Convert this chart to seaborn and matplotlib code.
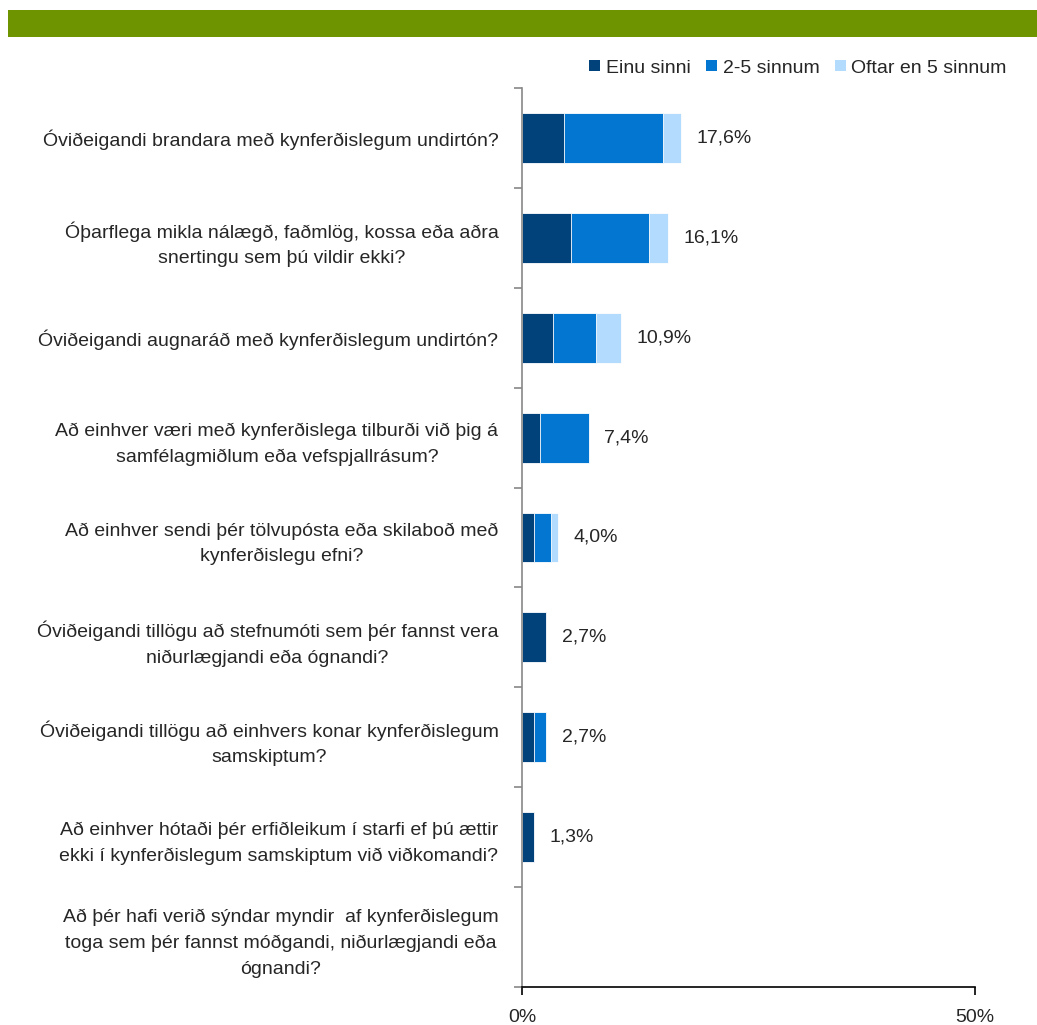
import matplotlib
matplotlib.use("Agg")
import matplotlib.pyplot as plt
from matplotlib.patches import Rectangle, Patch
import numpy as np
import pandas as pd
import seaborn as sns

questions = [
    "Óviðeigandi brandara með kynferðislegum undirtón?",
    "Óþarflega mikla nálægð, faðmlög, kossa eða aðra\nsnertingu sem þú vildir ekki?",
    "Óviðeigandi augnaráð með kynferðislegum undirtón?",
    "Að einhver væri með kynferðislega tilburði við þig á\nsamfélagmiðlum eða vefspjallrásum?",
    "Að einhver sendi þér tölvupósta eða skilaboð með\nkynferðislegu efni?",
    "Óviðeigandi tillögu að stefnumóti sem þér fannst vera\nniðurlægjandi eða ógnandi?",
    "Óviðeigandi tillögu að einhvers konar kynferðislegum\nsamskiptum?",
    "Að einhver hótaði þér erfiðleikum í starfi ef þú ættir\nekki í kynferðislegum samskiptum við viðkomandi?",
    "Að þér hafi verið sýndar myndir  af kynferðislegum\ntoga sem þér fannst móðgandi, niðurlægjandi eða\nógnandi?",
]
series = ["Einu sinni", "2-5 sinnum", "Oftar en 5 sinnum"]
einu = [4.6, 5.4, 3.4, 2.0, 1.3, 2.7, 1.3, 1.3, 0.0]
tvo_fimm = [11.0, 8.6, 4.8, 5.4, 1.9, 0.0, 1.4, 0.0, 0.0]
oftar = [2.0, 2.1, 2.7, 0.0, 0.8, 0.0, 0.0, 0.0, 0.0]
totals = [17.6, 16.1, 10.9, 7.4, 4.0, 2.7, 2.7, 1.3, None]

colors = ["#02427A", "#0276D0", "#B3DBFD"]

sns.set_style("white")
plt.rcParams['font.family'] = ['Liberation Sans', 'DejaVu Sans']
plt.rcParams['font.size'] = 14

df = pd.DataFrame({"q": questions, "a": einu, "b": tvo_fimm, "c": oftar})
df["cum_a"] = df["a"]
df["cum_b"] = df["a"] + df["b"]
df["cum_c"] = df["a"] + df["b"] + df["c"]

fig = plt.figure(figsize=(10.37, 10.25), dpi=100)
ax = fig.add_axes([522 / 1037, 1 - 987 / 1025, (975 - 522) / 1037, (987 - 88) / 1025])

# stacked bars: draw cumulative totals back to front
for col, c in [("cum_c", colors[2]), ("cum_b", colors[1]), ("cum_a", colors[0])]:
    sns.barplot(data=df, x=col, y="q", orient="h", color=c, width=0.5,
                saturation=1, ax=ax, linewidth=0.6, edgecolor="white")

for i, t in enumerate(totals):
    if t is None:
        continue
    ax.annotate(f"{t:.1f}%".replace(".", ","), (df["cum_c"][i], i),
                xytext=(11, 0), textcoords="offset points",
                va="center", ha="left", fontsize=14)

ax.set_xlim(0, 50)
ax.set_ylim(len(questions) - 0.5, -0.5)
ax.set_xticks([0, 50])
ax.set_xticklabels(["0%", "50%"], fontsize=14)
ax.set_xlabel("")
ax.set_ylabel("")
ax.set_yticks(range(len(questions)))
ax.set_yticklabels(questions, multialignment="center", fontsize=14, linespacing=1.65)
ax.set_yticks(np.arange(-0.5, len(questions)), minor=True)
ax.tick_params(axis="y", which="major", length=0, pad=17)
ax.tick_params(axis="y", which="minor", length=6, color="#888888", width=1.2, direction="out", left=True)
ax.tick_params(axis="x", length=6, width=1.2, color="black", direction="out", bottom=True, pad=10)

for s in ["top", "right"]:
    ax.spines[s].set_visible(False)
ax.spines["left"].set_color("#888888")
ax.spines["left"].set_linewidth(1.2)
ax.spines["bottom"].set_color("black")
ax.spines["bottom"].set_linewidth(1.2)

handles = [Patch(facecolor=c, edgecolor="none") for c in colors]
fig.legend(handles, series, loc="center", bbox_to_anchor=(798 / 1037, 1 - 68 / 1025),
           ncol=3, frameon=False, handlelength=0.55, handleheight=0.55,
           handletextpad=0.3, columnspacing=0.8, fontsize=14)

fig.patches.append(Rectangle((8 / 1037, 1 - 37 / 1025), 1 - 8 / 1037, 27 / 1025,
                             transform=fig.transFigure, facecolor="#6E9400",
                             edgecolor="none", zorder=0))

fig.savefig("out.png", dpi=100)
